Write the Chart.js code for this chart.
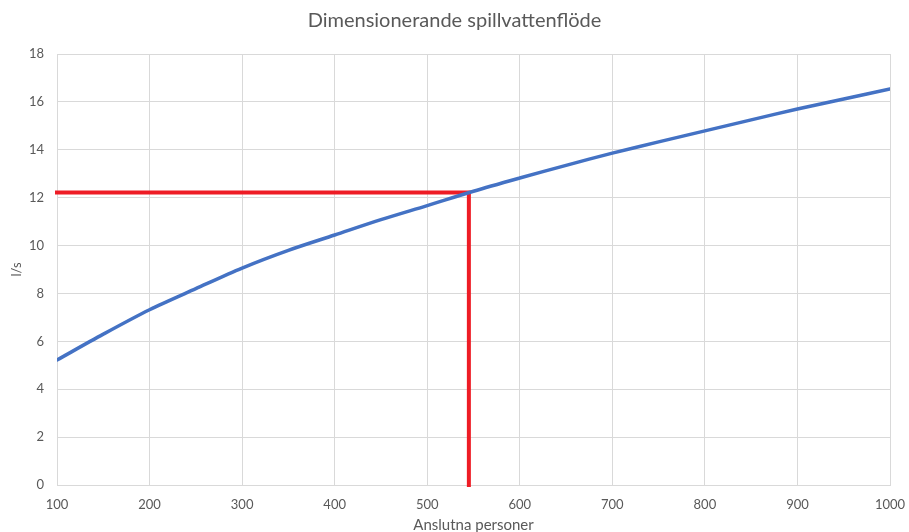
<!DOCTYPE html>
<html lang="sv">
<head>
<meta charset="utf-8">
<title>Dimensionerande spillvattenflöde</title>
<script src="https://cdn.jsdelivr.net/npm/chart.js@4.4.1/dist/chart.umd.min.js"></script>
<style>
  html, body { margin: 0; padding: 0; background: #ffffff; }
  #wrap { width: 909px; height: 532px; }
</style>
</head>
<body>
<div id="wrap"><canvas id="c" width="909" height="532"></canvas></div>
<script>
// Number of connected persons (x) and design wastewater flow in l/s (y)
const persons = [100, 150, 200, 250, 300, 350, 400, 450, 500, 550, 600, 650, 700, 750, 800, 850, 900, 950, 1000];
const flowLs  = [5.22, 6.3, 7.32, 8.2, 9.06, 9.8, 10.44, 11.08, 11.67, 12.27, 12.82, 13.35, 13.86, 14.33, 14.79, 15.25, 15.7, 16.12, 16.54];

// Reading for the chosen number of persons
const readPersons = 545;
const readFlow = 12.22;

const xMin = 100, xMax = 1000, xStep = 100;
const yMin = 0, yMax = 18, yStep = 2;

const FONT = 'Lato, "Open Sans", sans-serif';
const TEXT = '#595959';
const GRID = '#d9d9d9';

const curve = persons.map((p, i) => ({ x: p, y: flowLs[i] }));
const guide = [
  { x: xMin, y: readFlow },
  { x: readPersons, y: readFlow },
  { x: readPersons, y: yMin }
];

new Chart(document.getElementById('c'), {
  type: 'scatter',
  data: {
    datasets: [
      {
        label: 'Flöde',
        data: curve,
        showLine: true,
        borderColor: '#4472c4',
        borderWidth: 3.5,
        pointRadius: 0,
        tension: 0.3,
        borderCapStyle: 'round'
      },
      {
        label: 'Avläsning',
        data: guide,
        showLine: true,
        borderColor: '#ee1c25',
        borderWidth: 4,
        pointRadius: 0,
        tension: 0,
        borderCapStyle: 'square',
        borderJoinStyle: 'miter',
        clip: 6
      }
    ]
  },
  options: {
    responsive: false,
    animation: false,
    layout: { padding: 0 },
    plugins: {
      legend: { display: false },
      tooltip: { enabled: false },
      title: {
        display: true,
        text: 'Dimensionerande spillvattenflöde',
        color: TEXT,
        font: { family: FONT, size: 20, weight: 'normal' },
        padding: { top: 9, bottom: 21 }
      }
    },
    scales: {
      x: {
        type: 'linear',
        min: xMin,
        max: xMax,
        afterFit: s => { s.height = 47; s.paddingLeft = 0; s.paddingRight = 0; },
        ticks: {
          stepSize: xStep,
          color: TEXT,
          padding: 12,
          font: { family: FONT, size: 13 },
          callback: v => String(v)
        },
        grid: { color: GRID, lineWidth: 1, drawTicks: false },
        border: { color: GRID },
        title: {
          display: true,
          text: 'Anslutna personer',
          color: TEXT,
          font: { family: FONT, size: 15 },
          padding: { top: 0, bottom: -2 }
        }
      },
      y: {
        type: 'linear',
        min: yMin,
        max: yMax,
        afterFit: s => { s.width = 57; s.paddingTop = 0; s.paddingBottom = 0; },
        ticks: {
          stepSize: yStep,
          color: TEXT,
          padding: 13,
          font: { family: FONT, size: 13 }
        },
        grid: { color: GRID, lineWidth: 1, drawTicks: false },
        border: { color: GRID },
        title: {
          display: true,
          text: 'l/s',
          color: TEXT,
          font: { family: FONT, size: 13 },
          padding: { top: 9, bottom: 0 }
        }
      },
      // empty right-hand margin of the plot area
      yRight: {
        type: 'linear',
        position: 'right',
        min: yMin,
        max: yMax,
        afterFit: s => { s.width = 19; s.paddingTop = 0; s.paddingBottom = 0; },
        ticks: { display: false },
        grid: { display: false, drawTicks: false },
        border: { display: false }
      }
    }
  }
});
</script>
</body>
</html>
